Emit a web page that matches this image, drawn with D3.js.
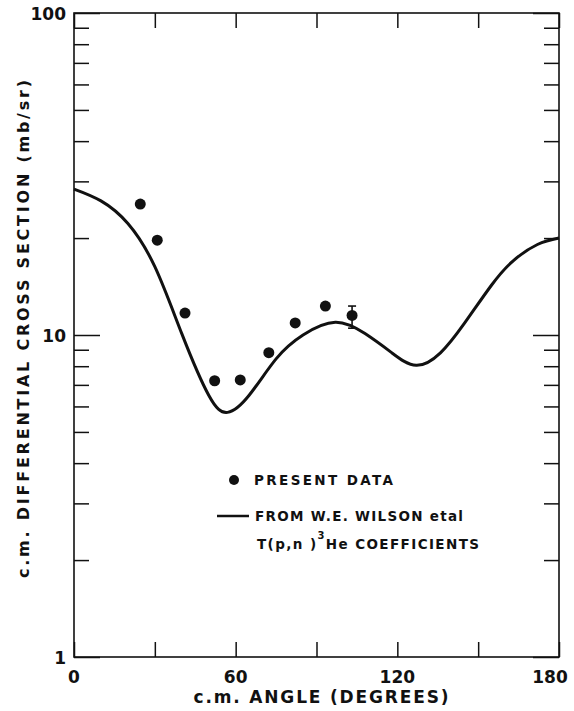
<!DOCTYPE html>
<html>
<head>
<meta charset="utf-8">
<script src="https://cdn.jsdelivr.net/npm/d3@7"></script>
<style>
  html, body { margin: 0; padding: 0; background: #fff; }
  svg { display: block; }
  text { font-family: "DejaVu Sans", "Liberation Sans", sans-serif; font-weight: bold; fill: #111; }
</style>
</head>
<body>
<svg id="chart" width="574" height="711"></svg>
<script>
// Measured differential cross sections (c.m. frame)
const dataAngle = [24.6, 30.9, 41.2, 52.2, 61.7, 72.3, 82.1, 93.3, 103.2];
const dataSigma = [25.5, 19.7, 11.7, 7.21, 7.25, 8.81, 10.9, 12.3, 11.5];
// Error bar on the last measured point
const errAngle = [103.2];
const errLow = [10.5];
const errHigh = [12.3];

// Legendre-coefficient prediction (W.E. Wilson et al.)
const curveAngle = [0, 10, 20, 30, 40, 50, 57, 65, 75, 85, 97, 108, 118, 127, 136, 145, 155, 163, 172, 180];
const curveSigma = [28.4, 26.1, 22.2, 16.3, 10.1, 6.5, 5.75, 6.5, 8.43, 10.0, 10.95, 10.1, 8.8, 8.05,
  8.8, 10.9, 14.3, 17.0, 19.1, 20.0];

// Axis ticks
const xTicks = [0, 30, 60, 90, 120, 150, 180];
const xLabels = [0, 60, 120, 180];
const yMajor = [1, 10, 100];
const yMinor = [2, 3, 4, 5, 6, 7, 8, 9, 20, 30, 40, 50, 60, 70, 80, 90];

const svg = d3.select("#chart");
const plotL = 74, plotR = 559, plotT = 13, plotB = 657;

const x = d3.scaleLinear().domain([0, 180]).range([plotL, plotR]);
const y = d3.scaleLog().domain([1, 100]).range([plotB, plotT]);

const ink = "#111";
const font = "DejaVu Sans, Liberation Sans, sans-serif";

// frame
svg.append("rect")
  .attr("x", plotL).attr("y", plotT)
  .attr("width", plotR - plotL).attr("height", plotB - plotT)
  .attr("fill", "none").attr("stroke", ink).attr("stroke-width", 1.6);

function styleAxis(g) {
  g.select(".domain").remove();
  g.selectAll(".tick line").attr("stroke", ink).attr("stroke-width", 1.5);
}

// left axis: minor and major inward ticks
svg.append("g").attr("transform", `translate(${plotL},0)`)
  .call(d3.axisLeft(y).tickValues(yMinor).tickSize(-15).tickFormat(""))
  .call(styleAxis);
svg.append("g").attr("transform", `translate(${plotL},0)`)
  .call(d3.axisLeft(y).tickValues(yMajor).tickSize(-26).tickFormat(d3.format("d")))
  .call(styleAxis)
  .call(g => g.selectAll(".tick text")
    .attr("font-size", 17).attr("font-family", font)
    .attr("font-weight", "bold").attr("fill", ink).attr("x", -8).attr("dy", "0.36em"));

// right axis: ticks only
svg.append("g").attr("transform", `translate(${plotR},0)`)
  .call(d3.axisRight(y).tickValues(yMinor).tickSize(-15).tickFormat(""))
  .call(styleAxis);
svg.append("g").attr("transform", `translate(${plotR},0)`)
  .call(d3.axisRight(y).tickValues(yMajor).tickSize(-26).tickFormat(""))
  .call(styleAxis);

// top and bottom axes: inward ticks every 30 degrees
svg.append("g").attr("transform", `translate(0,${plotT})`)
  .call(d3.axisTop(x).tickValues(xTicks).tickSize(-15).tickFormat(""))
  .call(styleAxis);
svg.append("g").attr("transform", `translate(0,${plotB})`)
  .call(d3.axisBottom(x).tickValues(xTicks).tickSize(-15).tickFormat(""))
  .call(styleAxis);

// bottom tick labels
svg.append("g").selectAll("text").data(xLabels).join("text")
  .attr("x", d => Math.min(x(d), 550))
  .attr("y", 683)
  .attr("text-anchor", "middle")
  .attr("font-size", 17)
  .text(d => d);

// axis titles
svg.append("text")
  .attr("x", 321).attr("y", 703)
  .attr("text-anchor", "middle")
  .attr("font-size", 17)
  .attr("textLength", 255).attr("lengthAdjust", "spacing")
  .text("c.m. ANGLE (DEGREES)");

svg.append("text")
  .attr("transform", "translate(29,329) rotate(-90)")
  .attr("text-anchor", "middle")
  .attr("font-size", 16)
  .attr("textLength", 498).attr("lengthAdjust", "spacing")
  .text("c.m. DIFFERENTIAL CROSS SECTION (mb/sr)");

// prediction curve
const line = d3.line()
  .x((d, i) => x(curveAngle[i]))
  .y(d => y(d))
  .curve(d3.curveNatural);
svg.append("path")
  .attr("d", line(curveSigma))
  .attr("fill", "none").attr("stroke", ink)
  .attr("stroke-width", 3).attr("stroke-linejoin", "round");

// error bar
const eb = svg.append("g").attr("stroke", ink).attr("stroke-width", 1.6);
errAngle.forEach((a, i) => {
  eb.append("line").attr("x1", x(a)).attr("x2", x(a)).attr("y1", y(errLow[i])).attr("y2", y(errHigh[i]));
  eb.append("line").attr("x1", x(a) - 4).attr("x2", x(a) + 4).attr("y1", y(errLow[i])).attr("y2", y(errLow[i]));
  eb.append("line").attr("x1", x(a) - 4).attr("x2", x(a) + 4).attr("y1", y(errHigh[i])).attr("y2", y(errHigh[i]));
});

// measured points
svg.append("g").selectAll("circle").data(dataSigma).join("circle")
  .attr("cx", (d, i) => x(dataAngle[i]))
  .attr("cy", d => y(d))
  .attr("r", 5.5)
  .attr("fill", ink);

// legend
const lg = svg.append("g");
lg.append("circle").attr("cx", 234).attr("cy", 480).attr("r", 5).attr("fill", ink);
lg.append("text").attr("x", 254).attr("y", 485).attr("font-size", 13.5)
  .attr("textLength", 139).attr("lengthAdjust", "spacing")
  .text("PRESENT DATA");
lg.append("line").attr("x1", 217).attr("x2", 249).attr("y1", 516).attr("y2", 516)
  .attr("stroke", ink).attr("stroke-width", 2.5);
lg.append("text").attr("x", 255).attr("y", 521).attr("font-size", 13.5)
  .attr("textLength", 208).attr("lengthAdjust", "spacing")
  .text("FROM W.E. WILSON etal");
const t3 = lg.append("text").attr("x", 257).attr("y", 549).attr("font-size", 13.5)
  .attr("letter-spacing", "1.4px");
t3.append("tspan").text("T(p,n )");
t3.append("tspan").attr("dy", -10).attr("font-size", 10).text("3");
t3.append("tspan").attr("dy", 10).text("He COEFFICIENTS");
</script>
</body>
</html>
